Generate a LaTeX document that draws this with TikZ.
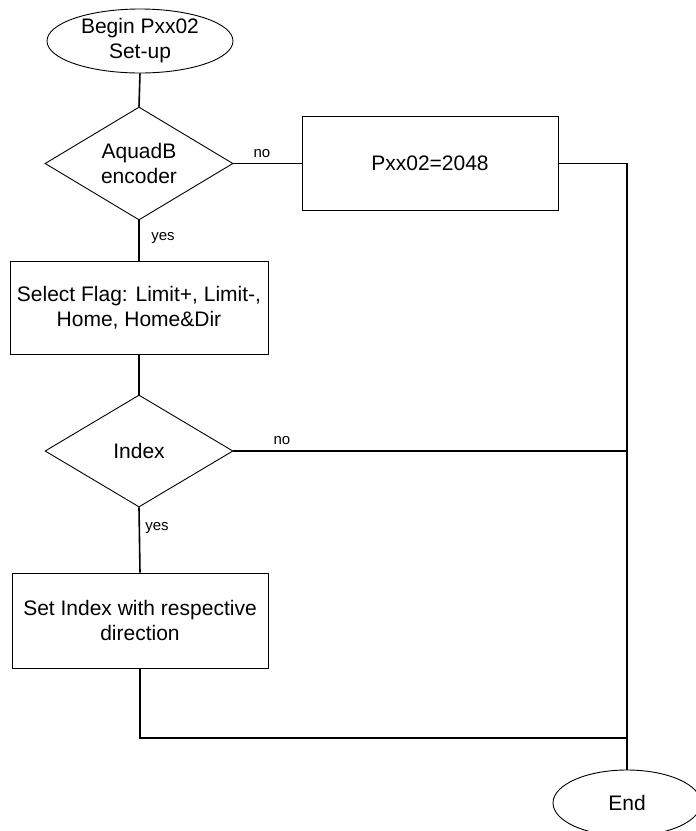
\documentclass[tikz,border=0pt]{standalone}
\usepackage{fontspec}
\setmainfont{Liberation Sans}
\usetikzlibrary{shapes.geometric}
\begin{document}
\begin{tikzpicture}[x=1pt,y=-1pt,
  shapeline/.style={draw=black,line width=0.9pt},
  mainfont/.style={font=\fontsize{21}{25}\selectfont},
  terminal/.style={shapeline,ellipse,inner sep=0pt,align=center,mainfont},
  procbox/.style={shapeline,rectangle,inner sep=0pt,align=center,mainfont},
  decision/.style={shapeline,diamond,inner sep=0pt,aspect=1.66,align=center,mainfont},
  conn/.style={draw=black,line width=1.6pt},
  lbl/.style={inner sep=0pt,font=\fontsize{15}{18}\selectfont}]
\useasboundingbox (0,0) rectangle (696,831);
\begin{scope}
\clip (0,0) rectangle (696,831);
\node[terminal,minimum width=186pt,minimum height=64pt] (begin) at (140,41) {Begin Pxx02\\Set-up};
\node[decision,minimum width=188pt,minimum height=113pt] (d1) at (139,163.5) {AquadB\\encoder};
\node[procbox,minimum width=256pt,minimum height=94pt] (p) at (430,163.5) {Pxx02=2048};
\node[procbox,minimum width=258pt,minimum height=93pt] (sel) at (139,307.5) {Select Flag: Limit+, Limit-,\\Home, Home\&Dir};
\node[decision,minimum width=188pt,minimum height=112pt] (d2) at (139,451) {Index};
\node[procbox,minimum width=256pt,minimum height=95pt] (idx) at (140,620.5) {Set Index with respective\\direction};
\node[terminal,minimum width=148pt,minimum height=66pt] (end) at (627,803) {End};
\coordinate (j3) at (627,738);

\node[lbl] (no1) at (262,154) {no};
\node[lbl] (yes1) at (163,238) {yes};
\node[lbl] (no2) at (282,441) {no};
\node[lbl] (yes2) at (157,528) {yes};

\draw[conn] (begin.south) -- (d1.north);
\draw[conn] (d1.east) -- (p.west);
\draw[conn] (p.east) -| (end.north);
\draw[conn] (d1.south) -- (sel.north);
\draw[conn] (sel.south) -- (d2.north);
\draw[conn] (d2.east) -- (d2.east -| end.north);
\draw[conn] (d2.south) -- (idx.north);
\draw[conn] (idx.south) |- (j3);
\end{scope}
\end{tikzpicture}
\end{document}
